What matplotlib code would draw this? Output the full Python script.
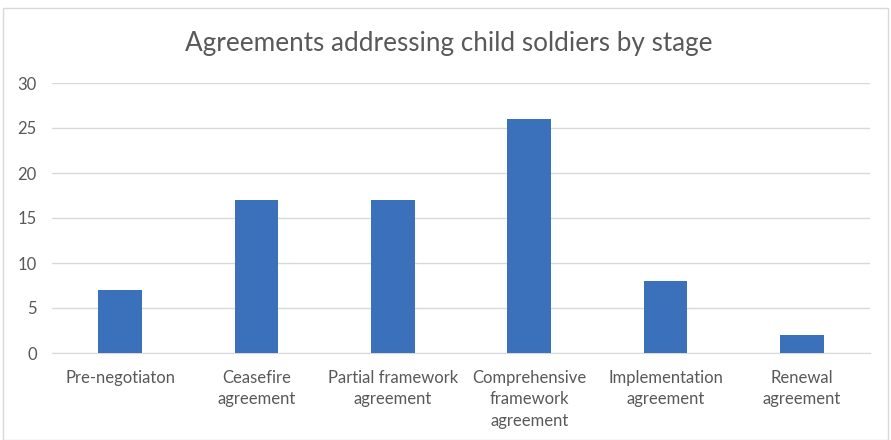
import matplotlib
matplotlib.use("Agg")
import matplotlib.pyplot as plt
from matplotlib.patches import Rectangle

categories = ["Pre-negotiaton", "Ceasefire\nagreement", "Partial framework\nagreement",
              "Comprehensive\nframework\nagreement", "Implementation\nagreement", "Renewal\nagreement"]
values = [7, 17, 17, 26, 8, 2]
yticks = [0, 5, 10, 15, 20, 25, 30]

plt.rcParams['font.family'] = ['Lato', 'DejaVu Sans']
fig = plt.figure(figsize=(8.91, 4.40), dpi=100)
ax = fig.add_axes([52/891, 87/440, 818/891, 270/440])

x = list(range(len(categories)))
ax.bar(x, values, width=0.32, color="#3B70BA", zorder=3)
ax.set_xlim(-0.5, len(categories) - 0.5)
ax.set_ylim(0, 30)
ax.set_yticks(yticks)
ax.set_xticks(x)
ax.set_xticklabels(categories, fontsize=12, color="#595959", linespacing=1.42)
ax.tick_params(axis='y', labelsize=12, labelcolor="#595959", length=0, pad=11)
ax.tick_params(axis='x', length=0, pad=12)
for s in ["top", "right", "left"]:
    ax.spines[s].set_visible(False)
ax.spines["bottom"].set_color("#d9d9d9")
ax.grid(axis='y', color="#d9d9d9", linewidth=1, zorder=0)

fig.text(449/891, 1 - 43/440, "Agreements addressing child soldiers by stage",
         ha="center", va="center", fontsize=18.8, color="#595959")

fig.patches.append(Rectangle((3/891, 0), 885/891, 1 - 8/440, transform=fig.transFigure,
                             fill=False, edgecolor="#d9d9d9", linewidth=1))

fig.savefig("out.png", dpi=100)
